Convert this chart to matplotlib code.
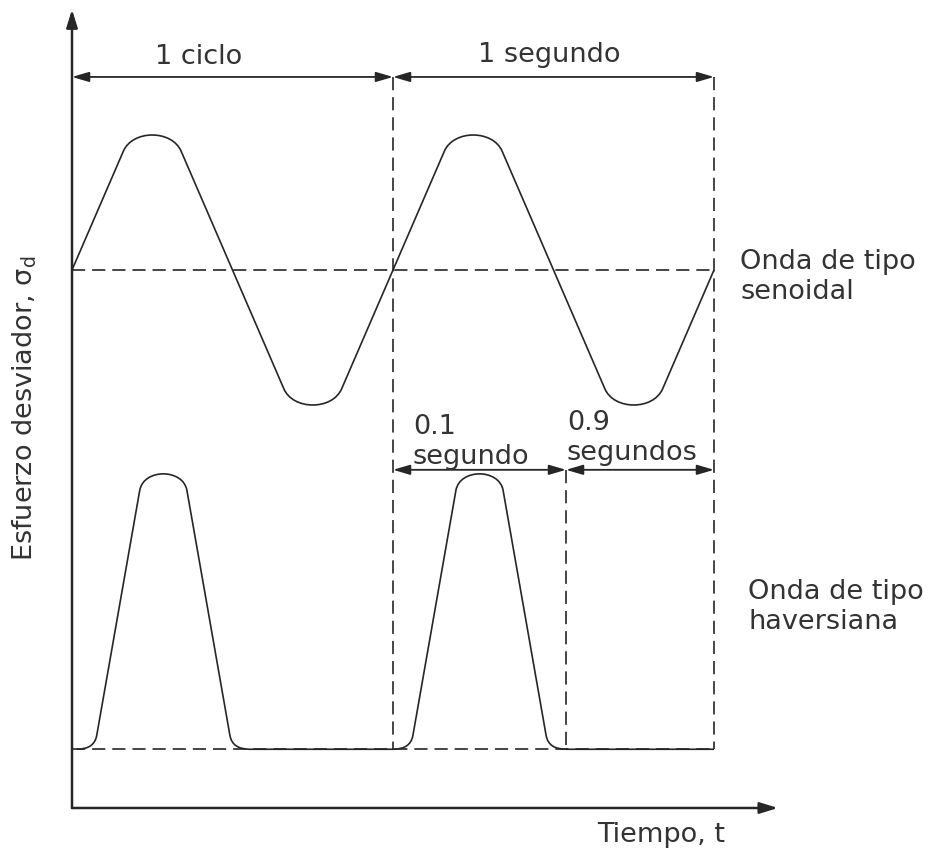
import numpy as np
import matplotlib.pyplot as plt
from matplotlib.path import Path
from matplotlib.patches import PathPatch

plt.rcParams["font.family"] = ["DejaVu Sans"]
plt.rcParams["mathtext.fontset"] = "dejavusans"
plt.rcParams["lines.scale_dashes"] = False

LINE_COLOR = "#262626"
TEXT_COLOR = "#333333"
FONT_SIZE = 19.5

# x: time in load cycles (schematic, 1 cycle = 1 s); y: sine amplitudes
SINE_T = [0.00, 0.16, 0.25, 0.34, 0.50, 0.66, 0.75, 0.84, 1.00]
SINE_A = [0.00, 0.88, 1.00, 0.88, 0.00, -0.88, -1.00, -0.88, 0.00]
SINE_CYCLES = [0.0, 1.0]

# haversine pulse, relative to its start; h as fraction of pulse height
PULSE_T = [0.000, 0.062, 0.196, 0.2695, 0.343, 0.477, 0.539]
PULSE_H = [0.00, 0.05, 0.94, 1.00, 0.94, 0.05, 0.00]
PULSE_STARTS = [0.015, 1.0]
HAV_BASE = -3.55
HAV_HEIGHT = 2.04
PULSE_END = 1.539  # split between "0.1 segundo" and "0.9 segundos"

CYCLE_MARKS = [0.0, 1.0, 2.0]
DIM_TOP = 1.43
DIM_PULSE = -1.48
AXIS_X_END = 2.199
AXIS_Y_TOP = 1.93
AXIS_Y_BOTTOM = -3.985


def unit(v):
    return v / np.hypot(*v)


def crest_controls(p_prev, s_in, crest_y, s_out, p_next):
    # cubic round-off between two straight flanks, passing through crest_y
    d_in = unit(s_in - p_prev)
    d_out = unit(p_next - s_out)
    k = (crest_y - 0.5 * (s_in[1] + s_out[1])) / (0.375 * (d_in[1] - d_out[1]))
    return s_in + k * d_in, s_out - k * d_out


def base_hit(a, b, base):
    return np.array([a[0] + (base - a[1]) * (b[0] - a[0]) / (b[1] - a[1]), base])


def sine_cycle(t0):
    p = [np.array([t0 + t, a]) for t, a in zip(SINE_T, SINE_A)]
    verts, codes = [p[0], p[1]], [Path.MOVETO, Path.LINETO]
    c1, c2 = crest_controls(p[0], p[1], p[2][1], p[3], p[4])
    verts += [c1, c2, p[3]]
    codes += [Path.CURVE4] * 3
    verts.append(p[5])
    codes.append(Path.LINETO)
    c1, c2 = crest_controls(p[4], p[5], p[6][1], p[7], p[8])
    verts += [c1, c2, p[7], p[8]]
    codes += [Path.CURVE4] * 3 + [Path.LINETO]
    return verts, codes


def pulse(t0):
    p = [np.array([t0 + t, HAV_BASE + HAV_HEIGHT * h]) for t, h in zip(PULSE_T, PULSE_H)]
    verts, codes = [p[0]], [Path.LINETO]
    verts += [base_hit(p[1], p[2], HAV_BASE), p[1], p[2]]
    codes += [Path.CURVE3, Path.CURVE3, Path.LINETO]
    c1, c2 = crest_controls(p[1], p[2], p[3][1], p[4], p[5])
    verts += [c1, c2, p[4], p[5]]
    codes += [Path.CURVE4] * 3 + [Path.LINETO]
    verts += [base_hit(p[4], p[5], HAV_BASE), p[6]]
    codes += [Path.CURVE3, Path.CURVE3]
    return verts, codes


fig = plt.figure(figsize=(9.37, 8.52), dpi=100)
ax = fig.add_axes([0, 0, 1, 1])
ax.set_xlim(-0.2243, 2.6947)
ax.set_ylim(-4.311, 2.0)
ax.axis("off")

dash = dict(color=LINE_COLOR, lw=1.2, dashes=(9.5, 5.0))

# dashed reference lines
ax.plot([CYCLE_MARKS[0], CYCLE_MARKS[-1]], [0, 0], **dash)
ax.plot([CYCLE_MARKS[0], CYCLE_MARKS[-1]], [HAV_BASE, HAV_BASE], **dash)
for t in CYCLE_MARKS[1:]:
    ax.plot([t, t], [DIM_TOP, HAV_BASE], **dash)
ax.plot([PULSE_END, PULSE_END], [DIM_PULSE, HAV_BASE], **dash)

# sine wave
verts, codes = [], []
for c in SINE_CYCLES:
    v, k = sine_cycle(c)
    if verts:
        k[0] = Path.LINETO
    verts += v
    codes += k
ax.add_patch(PathPatch(Path(verts, codes), fill=False, ec=LINE_COLOR, lw=1.2))

# haversine wave: pulse, then rest at the base until the next cycle
verts, codes = [np.array([PULSE_STARTS[0], HAV_BASE])], [Path.MOVETO]
for s, nxt in zip(PULSE_STARTS, CYCLE_MARKS[1:]):
    v, k = pulse(s)
    verts += v + [np.array([nxt, HAV_BASE])]
    codes += k + [Path.LINETO]
ax.add_patch(PathPatch(Path(verts, codes), fill=False, ec=LINE_COLOR, lw=1.2))

# axes with arrows
axis_arrow = dict(arrowstyle="-|>,head_length=0.9,head_width=0.28", color=LINE_COLOR,
                  lw=1.8, shrinkA=0, shrinkB=0, mutation_scale=12)
ax.annotate("", xy=(0, AXIS_Y_TOP), xytext=(0, AXIS_Y_BOTTOM), arrowprops=axis_arrow)
ax.annotate("", xy=(AXIS_X_END, AXIS_Y_BOTTOM), xytext=(0, AXIS_Y_BOTTOM), arrowprops=axis_arrow)

# dimension lines
dim_arrow = dict(arrowstyle="<|-|>,head_length=0.85,head_width=0.25", color=LINE_COLOR,
                 lw=1.3, shrinkA=0, shrinkB=0, mutation_scale=12)
for a, b, y in [(0.0, 1.0, DIM_TOP), (1.0, 2.0, DIM_TOP),
                (1.0, PULSE_END, DIM_PULSE), (PULSE_END, 2.0, DIM_PULSE)]:
    ax.annotate("", xy=(b, y), xytext=(a, y), arrowprops=dim_arrow)

txt = dict(color=TEXT_COLOR, fontsize=FONT_SIZE)
ax.text(0.393, 1.578, "1 ciclo", ha="center", va="center", **txt)
ax.text(1.486, 1.593, "1 segundo", ha="center", va="center", **txt)
ax.text(1.062, -1.274, "0.1\nsegundo", ha="left", va="center", linespacing=1.2, **txt)
ax.text(1.542, -1.248, "0.9\nsegundos", ha="left", va="center", linespacing=1.2, **txt)
ax.text(2.081, -0.052, "Onda de tipo\nsenoidal", ha="left", va="center", linespacing=1.2, **txt)
ax.text(2.106, -2.496, "Onda de tipo\nhaversiana", ha="left", va="center", linespacing=1.2, **txt)
ax.text(1.835, -4.185, "Tiempo, t", ha="center", va="center", **txt)
ax.text(-0.146, -1.022, r"Esfuerzo desviador, σ$_{\mathrm{d}}$", ha="center", va="center",
        rotation=90, **txt)

fig.savefig("out.png", dpi=100, facecolor="white")
